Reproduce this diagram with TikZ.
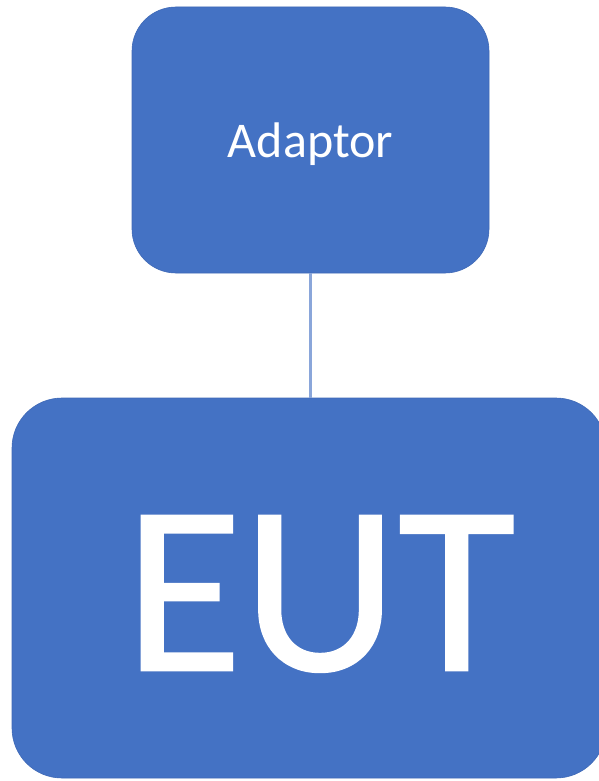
\documentclass[tikz,border=0pt]{standalone}
\usepackage{fontspec}
\setmainfont{Carlito}
\definecolor{boxblue}{HTML}{4472C4}
\definecolor{boxedge}{HTML}{3F69B6}
\definecolor{linkblue}{HTML}{8AA6DA}
% slightly heavier strokes for the big label
\newcommand{\heavytext}[2]{\special{pdf:literal direct 2 Tr #1 w 1 1 1 RG}#2\special{pdf:literal direct 0 Tr}}
\begin{document}
\begin{tikzpicture}[x=1pt,y=1pt]

\tikzstyle{block}=[fill=boxblue, draw=boxedge, line width=0.6pt, text=white, inner sep=0pt]
\tikzstyle{link}=[draw=linkblue, line width=2.2pt]

\useasboundingbox (0,0) rectangle (598,-781);

\node[block, rounded corners=44pt, minimum width=357pt, minimum height=266pt,
  font=\fontsize{50}{60}\selectfont, text depth=0pt] (adaptor) at (310.5,-140) {Adaptor};
\node[block, rounded corners=50pt, minimum width=594pt, minimum height=380pt] (eut) at (309,-588) {};
\node[text=white, inner sep=0pt, font=\fontsize{242}{250}\selectfont, text depth=0pt] (eut label) at (320,-593) {\heavytext{1.6}{EUT}};

\draw[link] (adaptor.south) -- (adaptor.south |- eut.north);

\end{tikzpicture}
\end{document}
